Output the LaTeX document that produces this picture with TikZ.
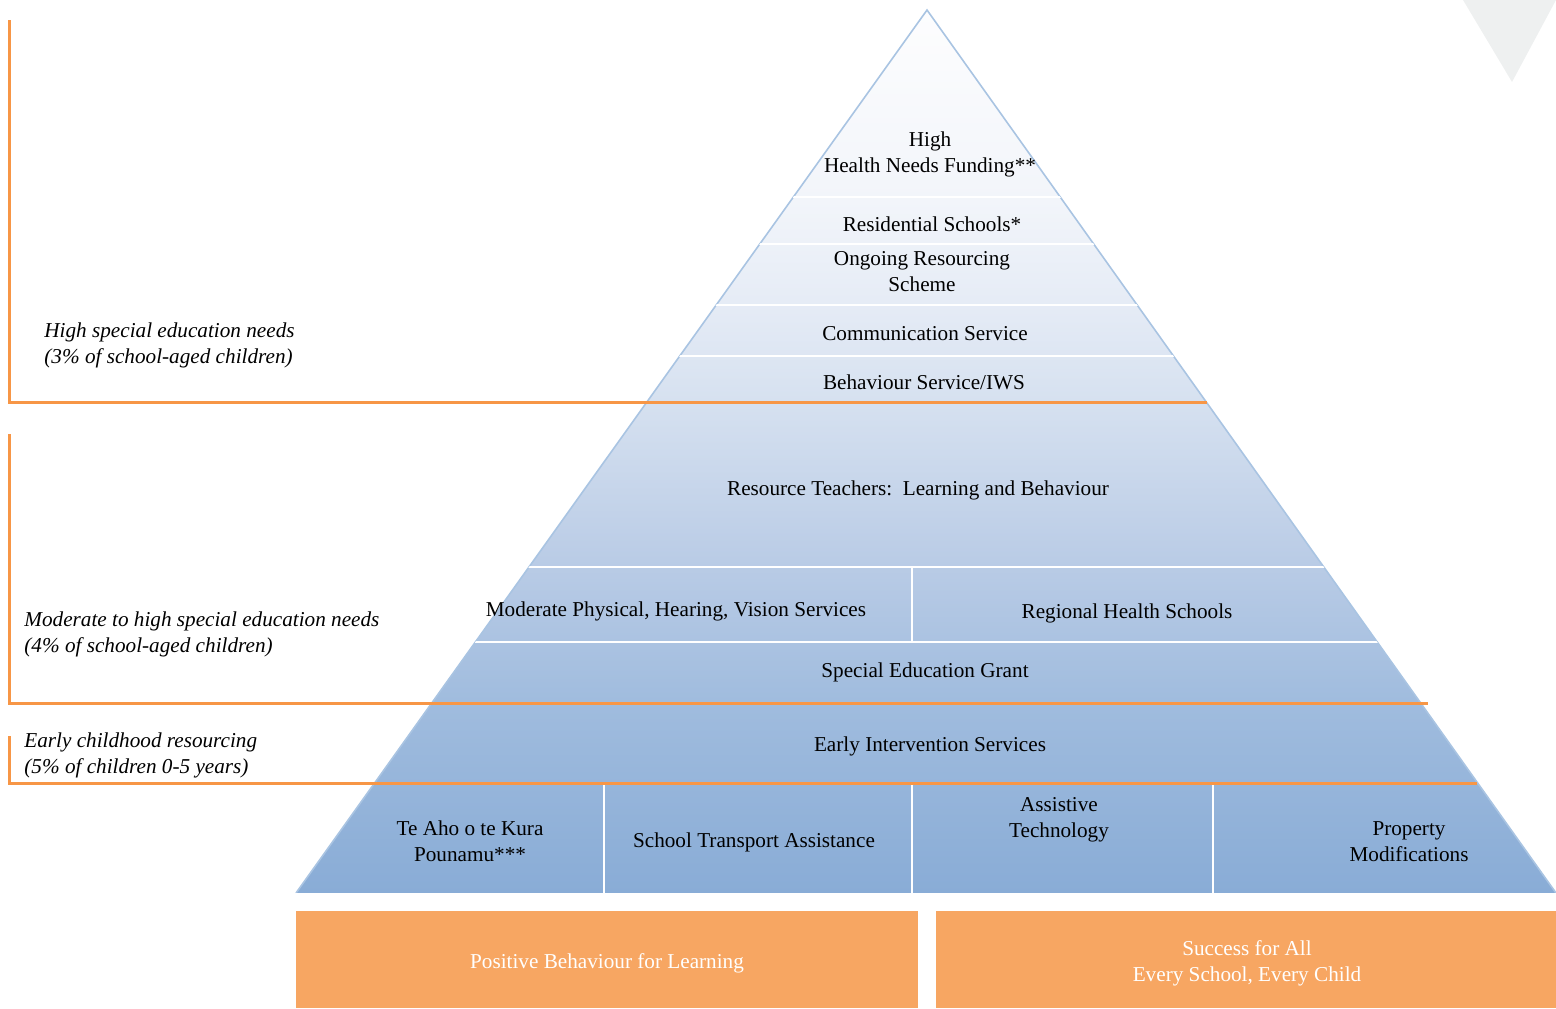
\documentclass[tikz,border=0pt]{standalone}
\usepackage{fontspec}
\setmainfont{Liberation Serif}
\definecolor{orln}{HTML}{F79646}
\definecolor{orbox}{HTML}{F7A662}
\definecolor{pyedge}{HTML}{A9C4E2}
\definecolor{grtri}{HTML}{EEF0F0}
\pgfdeclareverticalshading{pyrshade}{100bp}{%
  color(0bp)=(rgb,255:red,137;green,172;blue,214);
  color(25bp)=(rgb,255:red,137;green,172;blue,214);
  color(35.9bp)=(rgb,255:red,160;green,188;blue,222);
  color(43.9bp)=(rgb,255:red,186;green,204;blue,230);
  color(52.9bp)=(rgb,255:red,214;green,225;blue,240);
  color(58.6bp)=(rgb,255:red,230;green,236;blue,246);
  color(64.2bp)=(rgb,255:red,242;green,245;blue,250);
  color(75bp)=(rgb,255:red,253;green,253;blue,254);
  color(100bp)=(rgb,255:red,253;green,253;blue,254)}
\tikzset{
  lbl/.style={font=\fontsize{10.6}{13}\selectfont, align=center, inner sep=0pt, text=black},
  side/.style={font=\fontsize{10.6}{13}\selectfont\itshape, align=left, anchor=west, inner sep=0pt},
  boxtxt/.style={font=\fontsize{10.6}{13}\selectfont, align=center, inner sep=0pt, text=white},
  bracket/.style={draw=orln, line width=1.5pt},
  sep/.style={draw=white, line width=1pt},
}
\begin{document}
\begin{tikzpicture}[x=0.5pt,y=-0.5pt]
\useasboundingbox (0,0) rectangle (1556,1008);
% grey triangle top right
\fill[grtri] (1463,0) -- (1556,0) -- (1512,82) -- cycle;
% pyramid
\shade[shading=pyrshade] (927,10) -- (296,893) -- (1556,893) -- cycle;
\draw[pyedge, line width=0.8pt] (296,893) -- (927,10) -- (1556,893);
\begin{scope}
  \clip (927,10) -- (296,893) -- (1556,893) -- cycle;
  \foreach \yy in {197,244,305,356,567,642} {\draw[sep] (0,\yy) -- (1556,\yy);}
  \draw[sep] (912,567) -- (912,642);
  \draw[sep] (604,783) -- (604,893);
  \draw[sep] (912,783) -- (912,893);
  \draw[sep] (1213,783) -- (1213,893);
\end{scope}
\draw[white, line width=0.8pt] (296,894) -- (1556,894);
% orange brackets
\draw[bracket] (9,20) -- (9,402) -- (1207,402);
\draw[bracket] (9,434) -- (9,703) -- (1428,703);
\draw[bracket] (9,736) -- (9,783) -- (1477,783);
% pyramid labels
\node[lbl] (hhn) at (930,154) {High\\Health Needs Funding**};
\node[lbl] (res) at (932,224) {Residential Schools*};
\node[lbl] (ors) at (922,272) {Ongoing Resourcing\\Scheme};
\node[lbl] (com) at (925,334) {Communication Service};
\node[lbl] (beh) at (924,382) {Behaviour Service/IWS};
\node[lbl] (rtlb) at (918,490) {Resource Teachers:\ \ Learning and Behaviour};
\node[lbl] (mod) at (676,611) {Moderate Physical, Hearing, Vision Services};
\node[lbl] (rhs) at (1127,613) {Regional Health Schools};
\node[lbl] (seg) at (925,672) {Special Education Grant};
\node[lbl] (eis) at (930,746) {Early Intervention Services};
\node[lbl] (tak) at (470,841) {Te Aho o te Kura\\Pounamu***};
\node[lbl] (sta) at (754,842) {School Transport Assistance};
\node[lbl] (ast) at (1059,820) {Assistive\\Technology};
\node[lbl] (pm) at (1409,842) {Property\\Modifications};
% side labels
\node[side] (s1) at (44,345) {High special education needs\\(3\% of school-aged children)};
\node[side] (s2) at (24,634) {Moderate to high special education needs\\(4\% of school-aged children)};
\node[side] (s3) at (24,755) {Early childhood resourcing\\(5\% of children 0-5 years)};
% orange boxes
\fill[orbox] (296,911) rectangle (918,1008);
\fill[orbox] (936,911) rectangle (1556,1008);
\node[boxtxt] (pb4l) at (607,963) {Positive Behaviour for Learning};
\node[boxtxt] (sfa) at (1247,963) {Success for All\\Every School, Every Child};
\end{tikzpicture}
\end{document}
